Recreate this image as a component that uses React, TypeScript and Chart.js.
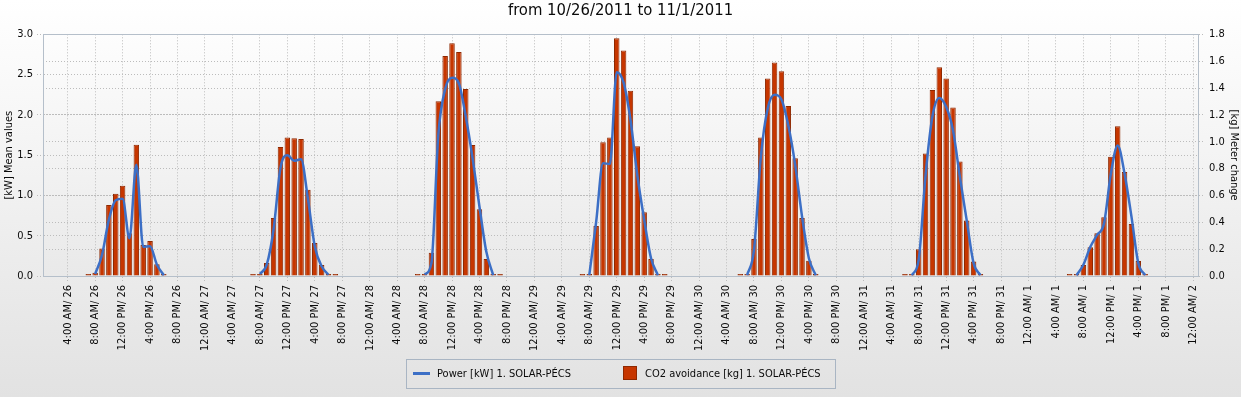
import React, { useEffect, useRef } from 'react';
import { Chart, registerables } from 'chart.js';

Chart.register(...registerables);

const FONT = "'DejaVu Sans Condensed', 'DejaVu Sans', sans-serif";

const chartTitle = 'from 10/26/2011 to 11/1/2011';
const powerLabel = 'Power [kW] 1. SOLAR-PÉCS';
const co2Label = 'CO2 avoidance [kg] 1. SOLAR-PÉCS';
const leftAxisTitle = '[kW] Mean values';
const rightAxisTitle = '[kg] Meter change';

// x tick labels, one every 4 hours starting 4:00 AM on the 26th
const tickLabels = [
  '4:00 AM/ 26', '8:00 AM/ 26', '12:00 PM/ 26', '4:00 PM/ 26', '8:00 PM/ 26',
  '12:00 AM/ 27', '4:00 AM/ 27', '8:00 AM/ 27', '12:00 PM/ 27', '4:00 PM/ 27', '8:00 PM/ 27',
  '12:00 AM/ 28', '4:00 AM/ 28', '8:00 AM/ 28', '12:00 PM/ 28', '4:00 PM/ 28', '8:00 PM/ 28',
  '12:00 AM/ 29', '4:00 AM/ 29', '8:00 AM/ 29', '12:00 PM/ 29', '4:00 PM/ 29', '8:00 PM/ 29',
  '12:00 AM/ 30', '4:00 AM/ 30', '8:00 AM/ 30', '12:00 PM/ 30', '4:00 PM/ 30', '8:00 PM/ 30',
  '12:00 AM/ 31', '4:00 AM/ 31', '8:00 AM/ 31', '12:00 PM/ 31', '4:00 PM/ 31', '8:00 PM/ 31',
  '12:00 AM/ 1', '4:00 AM/ 1', '8:00 AM/ 1', '12:00 PM/ 1', '4:00 PM/ 1', '8:00 PM/ 1',
  '12:00 AM/ 2',
];
const firstTickHour = 4;
const tickStepHours = 4;
const xMinHour = 0.4;
const xMaxHour = 168.7;

// CO2 avoidance [kg], hourly, per day (first hour of each day's list below)
const co2FirstHour = [7, 7, 7, 7, 6, 6, 6];
const co2Day26 = [0.003, 0.024, 0.204, 0.528, 0.612, 0.672, 0.318, 0.978, 0.231, 0.261, 0.087, 0.006];
const co2Day27 = [0.003, 0.009, 0.096, 0.432, 0.96, 1.032, 1.026, 1.02, 0.642, 0.246, 0.081, 0.006, 0.003];
const co2Day28 = [0.002, 0.006, 0.174, 1.302, 1.638, 1.734, 1.668, 1.392, 0.975, 0.498, 0.126, 0.007, 0.002];
const co2Day29 = [0.002, 0.006, 0.372, 0.996, 1.032, 1.77, 1.68, 1.38, 0.966, 0.474, 0.126, 0.006, 0.002];
const co2Day30 = [0.002, 0.006, 0.276, 1.032, 1.47, 1.59, 1.524, 1.266, 0.876, 0.432, 0.114, 0.006];
const co2Day31 = [0.002, 0.006, 0.2, 0.912, 1.386, 1.554, 1.47, 1.254, 0.852, 0.414, 0.108, 0.006];
const co2Day1 = [0.002, 0.006, 0.082, 0.214, 0.318, 0.438, 0.888, 1.116, 0.774, 0.387, 0.112, 0.006];
const co2Days = [co2Day26, co2Day27, co2Day28, co2Day29, co2Day30, co2Day31, co2Day1];

// Power [kW], hourly mean values, per day
const powerFirstHour = [8, 8, 8, 8, 7, 7, 7];
const powerDay26 = [0.025, 0.26, 0.7, 0.94, 0.96, 0.47, 1.38, 0.36, 0.37, 0.14, 0.01];
const powerDay27 = [0.025, 0.14, 0.58, 1.34, 1.5, 1.43, 1.45, 0.96, 0.37, 0.12, 0.015];
const powerDay28 = [0.02, 0.16, 1.75, 2.32, 2.46, 2.39, 1.98, 1.46, 0.86, 0.3, 0.01];
const powerDay29 = [0.01, 0.67, 1.4, 1.39, 2.53, 2.4, 1.94, 1.25, 0.7, 0.22, 0.01];
const powerDay30 = [0.01, 0.32, 1.48, 2.08, 2.25, 2.19, 1.87, 1.38, 0.74, 0.22, 0.01];
const powerDay31 = [0.01, 0.2, 1.25, 1.98, 2.21, 2.1, 1.81, 1.23, 0.69, 0.16, 0.01];
const powerDay1 = [0.01, 0.14, 0.36, 0.51, 0.65, 1.27, 1.62, 1.27, 0.74, 0.16, 0.01];
const powerDays = [powerDay26, powerDay27, powerDay28, powerDay29, powerDay30, powerDay31, powerDay1];

const HOURS_PER_DAY = 24;

const BAR_FILL = '#c63600';
const BAR_BORDER = '#8e2800';
const LINE_COLOR = '#3c6fc6';
const GRID_COLOR = '#bcbcbc';
const AXIS_COLOR = '#b5bfca';
const TEXT_COLOR = '#0a0a0a';

function buildCo2Points() {
  const pts: { x: number; y: number }[] = [];
  co2Days.forEach((vals, d) => {
    vals.forEach((v, i) => pts.push({ x: d * HOURS_PER_DAY + co2FirstHour[d] + i, y: v }));
  });
  return pts;
}

function buildPowerPoints() {
  const pts: { x: number; y: number | null }[] = [];
  powerDays.forEach((vals, d) => {
    const start = d * HOURS_PER_DAY + powerFirstHour[d];
    vals.forEach((v, i) => pts.push({ x: start + i, y: v }));
    pts.push({ x: start + vals.length, y: null });
  });
  return pts;
}

const bgPlugin = {
  id: 'bgPlugin',
  beforeDraw(chart: any) {
    const { ctx, width, height, chartArea: a } = chart;
    ctx.save();
    let g = ctx.createLinearGradient(0, 0, 0, height);
    g.addColorStop(0, '#ffffff');
    g.addColorStop(1, '#e2e2e2');
    ctx.fillStyle = g;
    ctx.fillRect(0, 0, width, height);
    g = ctx.createLinearGradient(0, a.top, 0, a.bottom);
    g.addColorStop(0, '#fdfdfd');
    g.addColorStop(1, '#e9e9e9');
    ctx.fillStyle = g;
    ctx.fillRect(a.left, a.top, a.right - a.left, a.bottom - a.top);
    ctx.restore();
  },
  afterDraw(chart: any) {
    const { ctx, chartArea: a } = chart;
    ctx.save();
    ctx.strokeStyle = AXIS_COLOR;
    ctx.lineWidth = 1;
    ctx.beginPath();
    ctx.moveTo(a.left, Math.round(a.top) + 0.5);
    ctx.lineTo(a.right, Math.round(a.top) + 0.5);
    ctx.stroke();
    ctx.restore();
  },
};

export default function App() {
  const canvasRef = useRef<HTMLCanvasElement | null>(null);

  useEffect(() => {
    if (!canvasRef.current) return;
    const font = { family: FONT, size: 11 };
    const tickHours = tickLabels.map((_, i) => firstTickHour + i * tickStepHours);
    const chart = new Chart(canvasRef.current, {
      type: 'bar',
      data: {
        datasets: [
          {
            type: 'line',
            label: powerLabel,
            data: buildPowerPoints() as any,
            yAxisID: 'y',
            borderColor: LINE_COLOR,
            backgroundColor: LINE_COLOR,
            borderWidth: 2.5,
            pointRadius: 0,
            cubicInterpolationMode: 'monotone',
            spanGaps: false,
            order: 0,
          } as any,
          {
            type: 'bar',
            label: co2Label,
            data: buildCo2Points() as any,
            yAxisID: 'y1',
            backgroundColor: BAR_FILL,
            borderColor: BAR_BORDER,
            borderWidth: 1,
            minBarLength: 2,
            barPercentage: 0.8,
            categoryPercentage: 1,
            order: 1,
          } as any,
        ],
      },
      options: {
        animation: false,
        responsive: false,
        devicePixelRatio: 1,
        layout: { padding: 0 },
        plugins: {
          legend: { display: false },
          tooltip: { enabled: false },
          title: {
            display: true,
            text: chartTitle,
            color: TEXT_COLOR,
            font: { family: FONT, size: 16.5, weight: 'normal' },
            padding: { top: 1, bottom: 13.5 },
          },
        },
        scales: {
          x: {
            type: 'linear',
            offset: false,
            min: xMinHour,
            max: xMaxHour,
            afterBuildTicks: (s: any) => {
              s.ticks = tickHours.map((v) => ({ value: v }));
            },
            afterFit: (s: any) => {
              s.height = 121;
              s.paddingLeft = 0;
              s.paddingRight = 0;
            },
            ticks: {
              autoSkip: false,
              minRotation: 90,
              maxRotation: 90,
              padding: 4,
              color: TEXT_COLOR,
              font,
              callback: (_v: any, i: number) => tickLabels[i],
            },
            grid: {
              offset: false,
              color: GRID_COLOR,
              tickLength: 5,
              tickColor: GRID_COLOR,
              tickBorderDash: [1, 2],
            },
            border: { display: true, color: AXIS_COLOR, dash: [1, 2] },
          },
          y: {
            type: 'linear',
            position: 'left',
            min: 0,
            max: 3,
            afterFit: (s: any) => {
              s.width = 43;
            },
            ticks: {
              stepSize: 0.5,
              padding: 4,
              color: TEXT_COLOR,
              font,
              callback: (v: any) => Number(v).toFixed(1),
            },
            title: {
              display: true,
              text: leftAxisTitle,
              color: TEXT_COLOR,
              font,
              padding: { top: 3, bottom: 0 },
            },
            grid: {
              color: GRID_COLOR,
              tickLength: 6,
              tickColor: GRID_COLOR,
              tickBorderDash: [1, 2],
            },
            border: { display: true, color: AXIS_COLOR, dash: [1, 2] },
          },
          y1: {
            type: 'linear',
            position: 'right',
            min: 0,
            max: 1.8,
            afterFit: (s: any) => {
              s.width = 43;
            },
            ticks: {
              stepSize: 0.2,
              padding: 5,
              color: TEXT_COLOR,
              font,
              callback: (v: any) => Number(v).toFixed(1),
            },
            title: {
              display: true,
              text: rightAxisTitle,
              color: TEXT_COLOR,
              font,
              padding: { top: 0.5, bottom: 0 },
            },
            grid: {
              color: GRID_COLOR,
              drawOnChartArea: true,
              tickLength: 6,
              tickColor: GRID_COLOR,
              tickBorderDash: [1, 2],
            },
            border: { display: true, color: AXIS_COLOR, dash: [1, 2] },
          },
        },
      } as any,
      plugins: [bgPlugin],
    });
    return () => chart.destroy();
  }, []);

  const legendText: React.CSSProperties = {
    position: 'absolute',
    top: 7,
    fontFamily: FONT,
    fontSize: 11,
    lineHeight: '13px',
    color: TEXT_COLOR,
    whiteSpace: 'nowrap',
  };

  return (
    <div style={{ position: 'fixed', left: 0, top: 0, width: 1241, height: 397, overflow: 'hidden' }}>
      <canvas ref={canvasRef} width={1241} height={397} style={{ display: 'block', width: 1241, height: 397 }} />
      <div
        style={{
          position: 'absolute',
          left: 406,
          top: 359,
          width: 430,
          height: 30,
          border: '1px solid #a9b5c3',
          boxSizing: 'border-box',
        }}
      >
        <div style={{ position: 'absolute', left: 6, top: 12, width: 17, height: 2.5, background: LINE_COLOR }} />
        <div style={{ ...legendText, left: 30 }}>{powerLabel}</div>
        <div
          style={{
            position: 'absolute',
            left: 216,
            top: 6,
            width: 14,
            height: 14,
            background: BAR_FILL,
            border: `1px solid ${BAR_BORDER}`,
            boxSizing: 'border-box',
          }}
        />
        <div style={{ ...legendText, left: 238 }}>{co2Label}</div>
      </div>
    </div>
  );
}
